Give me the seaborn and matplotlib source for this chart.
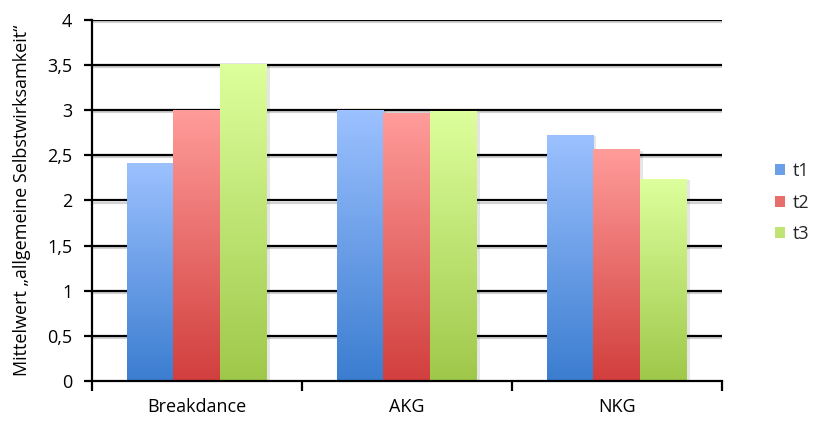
import numpy as np
import pandas as pd
import matplotlib
matplotlib.use("Agg")
import matplotlib.pyplot as plt
import matplotlib.patheffects as pe
from matplotlib.patches import Rectangle
import seaborn as sns

# Mean values of general self-efficacy per group and time point
groups = ["Breakdance", "AKG", "NKG"]
t1 = [2.41, 3.00, 2.72]
t2 = [3.00, 2.96, 2.56]
t3 = [3.51, 2.98, 2.23]
times = ["t1", "t2", "t3"]
y_ticks = [0, 0.5, 1, 1.5, 2, 2.5, 3, 3.5, 4]
y_labels = ["0", "0,5", "1", "1,5", "2", "2,5", "3", "3,5", "4"]

# top (light) and bottom (dark) colours of the bar gradients
grad_top = {"t1": "#9cc1ff", "t2": "#ff9c9a", "t3": "#ddff9c"}
grad_bot = {"t1": "#3b7dd0", "t2": "#d13f3d", "t3": "#9fc84a"}
mid = {"t1": "#6b9fe8", "t2": "#e86e6c", "t3": "#bfe473"}

df = pd.DataFrame({
    "Gruppe": groups * 3,
    "Zeitpunkt": ["t1"] * 3 + ["t2"] * 3 + ["t3"] * 3,
    "Wert": t1 + t2 + t3,
})

sns.set_theme(style="white")
plt.rcParams["font.family"] = ["Open Sans", "DejaVu Sans"]

fig = plt.figure(figsize=(8.13, 4.22), dpi=100)
ax = fig.add_axes([0.113, 0.097, 0.775, 0.856])

sns.barplot(data=df, x="Gruppe", y="Wert", hue="Zeitpunkt", order=groups,
            hue_order=times, palette=mid, width=0.67, ax=ax, legend=False,
            errorbar=None, saturation=1)

ax.set_xlim(-0.5, 2.5)
ax.set_ylim(0, 4)

# replace flat fills with vertical gradients
for cont, t in zip(ax.containers, times):
    c0 = np.array(matplotlib.colors.to_rgb(grad_top[t]))
    c1 = np.array(matplotlib.colors.to_rgb(grad_bot[t]))
    s = np.linspace(0, 1, 256)[:, None]
    grad = (c0 * (1 - s) + c1 * s)[:, None, :]
    for p in cont.patches:
        x, w, h = p.get_x(), p.get_width(), p.get_height()
        p.set_facecolor("white")
        p.set_edgecolor("none")
        p.set_zorder(3)
        p.set_path_effects([pe.SimplePatchShadow(offset=(2.0, -0.5),
                                                 shadow_rgbFace="black",
                                                 alpha=0.10), pe.Normal()])
        ax.imshow(grad, extent=[x, x + w, 0, h], origin="upper",
                  aspect="auto", zorder=4, interpolation="bilinear")

ax.set_xlim(-0.5, 2.5)
ax.set_ylim(0, 4)
ax.set_aspect("auto")

# horizontal grid lines with a soft shadow
for yv in y_ticks[1:]:
    ax.axhline(yv, color="black", lw=1.6, zorder=1,
               path_effects=[pe.SimpleLineShadow(offset=(0, -1.5),
                                                 shadow_color="gray",
                                                 alpha=0.35),
                             pe.Normal()])

ax.set_yticks(y_ticks)
ax.set_yticklabels(y_labels)
ax.set_xticks([0, 1, 2])
ax.set_xticklabels(groups)
ax.set_xticks([-0.5, 0.5, 1.5, 2.5], minor=True)
ax.tick_params(axis="x", which="major", length=0, pad=12, labelsize=13,
               colors="black")
ax.tick_params(axis="x", which="minor", length=7, width=1.6, direction="out",
               color="black", bottom=True)
ax.tick_params(axis="y", length=6, width=1.6, direction="out", color="black",
               left=True, labelsize=13, pad=8, labelcolor="black")

for side in ["top", "right"]:
    ax.spines[side].set_visible(False)
for side in ["left", "bottom"]:
    ax.spines[side].set_color("black")
    ax.spines[side].set_linewidth(1.6)
    ax.spines[side].set_zorder(6)

ax.set_xlabel("")
ax.set_ylabel("Mittelwert \u201eallgemeine Selbstwirksamkeit\u201c",
              fontsize=13, color="black", labelpad=12)

handles = [Rectangle((0, 0), 1, 1, facecolor=mid[t], edgecolor="none")
           for t in times]
fig.legend(handles, times, loc="center left", bbox_to_anchor=(0.953, 0.52),
           frameon=False, fontsize=13, handlelength=0.55, handleheight=0.55,
           handletextpad=0.45, labelspacing=0.75, borderpad=0,
           borderaxespad=0)

fig.savefig("out.png", dpi=100)
